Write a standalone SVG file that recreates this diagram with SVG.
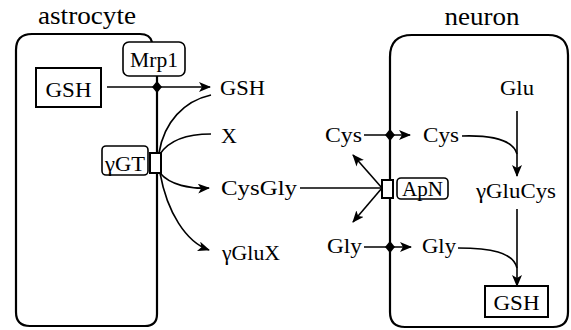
<svg xmlns="http://www.w3.org/2000/svg" width="571" height="330" viewBox="0 0 571 330">
<defs>
<style>
text{font-family:"Liberation Serif","Times New Roman",serif;font-size:22px;fill:#000}
.title{font-size:26px}
.cell{fill:none;stroke:#000;stroke-width:2.2}
.box{fill:#fff;stroke:#000;stroke-width:2}
.lbl{fill:#fff;stroke:#000;stroke-width:1.6}
.ln{fill:none;stroke:#000;stroke-width:1.6}
.arr{fill:none;stroke:#000;stroke-width:1.6;marker-end:url(#ah)}
.dia{fill:#000}
</style>
<marker id="ah" viewBox="0 0 12 10" refX="11" refY="5" markerWidth="12" markerHeight="10" markerUnits="userSpaceOnUse" orient="auto">
<path d="M0,0 L12,5 L0,10 L3,5 z" fill="#000"/>
</marker>
</defs>

<g id="astrocyte">
<path class="cell" d="M152,42 Q150,34 140,34 L32,34 Q16,34 16,50 L16,312 Q16,326 30,326 L145,326 Q157,326 157,314 L157,76"/>
<text class="title" x="38" y="24" textLength="98" lengthAdjust="spacingAndGlyphs">astrocyte</text>
</g>

<g id="neuron">
<path class="cell" d="M390,312 L390,57 Q390,35 412,35 L548,35 Q568,35 568,55 L568,312 Q568,327 553,327 L405,327 Q390,327 390,312 z"/>
<text class="title" x="482" y="25" text-anchor="middle" textLength="75" lengthAdjust="spacingAndGlyphs">neuron</text>
</g>

<g id="connectors">
<line class="arr" x1="107" y1="87" x2="210" y2="87"/>
<path class="ln" d="M159,153 C164,122 184,101 211,95"/>
<path class="ln" d="M160,154 C170,139 190,134 211,134"/>
<path class="arr" d="M160,173 C170,185 190,189 209,188"/>
<path class="arr" d="M160,173 C167,212 186,242 209,250"/>
<line class="ln" x1="300" y1="188" x2="382" y2="188"/>
<line class="arr" x1="382" y1="188" x2="353" y2="155"/>
<line class="arr" x1="382" y1="188" x2="353" y2="222"/>
<line class="arr" x1="364" y1="135" x2="410" y2="135"/>
<line class="arr" x1="364" y1="247" x2="411" y2="247"/>
<line class="arr" x1="517" y1="111" x2="517" y2="176"/>
<path class="ln" d="M462,136 C492,135 513,140 517,154"/>
<line class="arr" x1="517" y1="209" x2="517" y2="286"/>
<path class="ln" d="M458,248 C490,248 513,252 517,268"/>
<path class="dia" d="M157,81 L162,87 L157,93 L152,87 z"/>
<path class="dia" d="M390,129 L395,135 L390,141 L385,135 z"/>
<path class="dia" d="M390,241 L395,247 L390,253 L385,247 z"/>
</g>

<g id="gsh-astro">
<rect class="box" x="36" y="68" width="65" height="39"/>
<text x="68.5" y="97" text-anchor="middle" textLength="46" lengthAdjust="spacingAndGlyphs">GSH</text>
</g>

<g id="mrp1">
<rect class="lbl" x="123" y="42" width="62" height="34" rx="6"/>
<text x="154" y="67" text-anchor="middle" textLength="48" lengthAdjust="spacingAndGlyphs">Mrp1</text>
</g>

<g id="ggt">
<rect class="lbl" x="102" y="146" width="46" height="29" rx="4"/>
<text x="125" y="171" text-anchor="middle" textLength="40" lengthAdjust="spacingAndGlyphs">γGT</text>
<rect class="box" x="150" y="153" width="11" height="20"/>
</g>

<g id="gsh-out"><text x="220" y="95" textLength="45" lengthAdjust="spacingAndGlyphs">GSH</text></g>
<g id="x"><text x="221" y="143">X</text></g>
<g id="cysgly"><text x="221" y="195" textLength="76" lengthAdjust="spacingAndGlyphs">CysGly</text></g>
<g id="gglux"><text x="222" y="260" textLength="58" lengthAdjust="spacingAndGlyphs">γGluX</text></g>

<g id="apn">
<rect class="box" x="382" y="180" width="11" height="18"/>
<rect class="lbl" x="397" y="178" width="51" height="21" rx="4"/>
<text x="422.5" y="196" text-anchor="middle" textLength="41" lengthAdjust="spacingAndGlyphs">ApN</text>
</g>

<g id="cys-out"><text x="325" y="142" textLength="37" lengthAdjust="spacingAndGlyphs">Cys</text></g>
<g id="cys-in"><text x="423" y="142" textLength="36" lengthAdjust="spacingAndGlyphs">Cys</text></g>
<g id="gly-out"><text x="327" y="253" textLength="35" lengthAdjust="spacingAndGlyphs">Gly</text></g>
<g id="gly-in"><text x="422" y="253" textLength="34" lengthAdjust="spacingAndGlyphs">Gly</text></g>
<g id="glu"><text x="517" y="95" text-anchor="middle" textLength="34" lengthAdjust="spacingAndGlyphs">Glu</text></g>
<g id="gglucys"><text x="516" y="198" text-anchor="middle" textLength="80" lengthAdjust="spacingAndGlyphs">γGluCys</text></g>

<g id="gsh-neuron">
<rect class="box" x="485" y="286" width="63" height="31"/>
<text x="516.5" y="310" text-anchor="middle" textLength="46" lengthAdjust="spacingAndGlyphs">GSH</text>
</g>
</svg>
